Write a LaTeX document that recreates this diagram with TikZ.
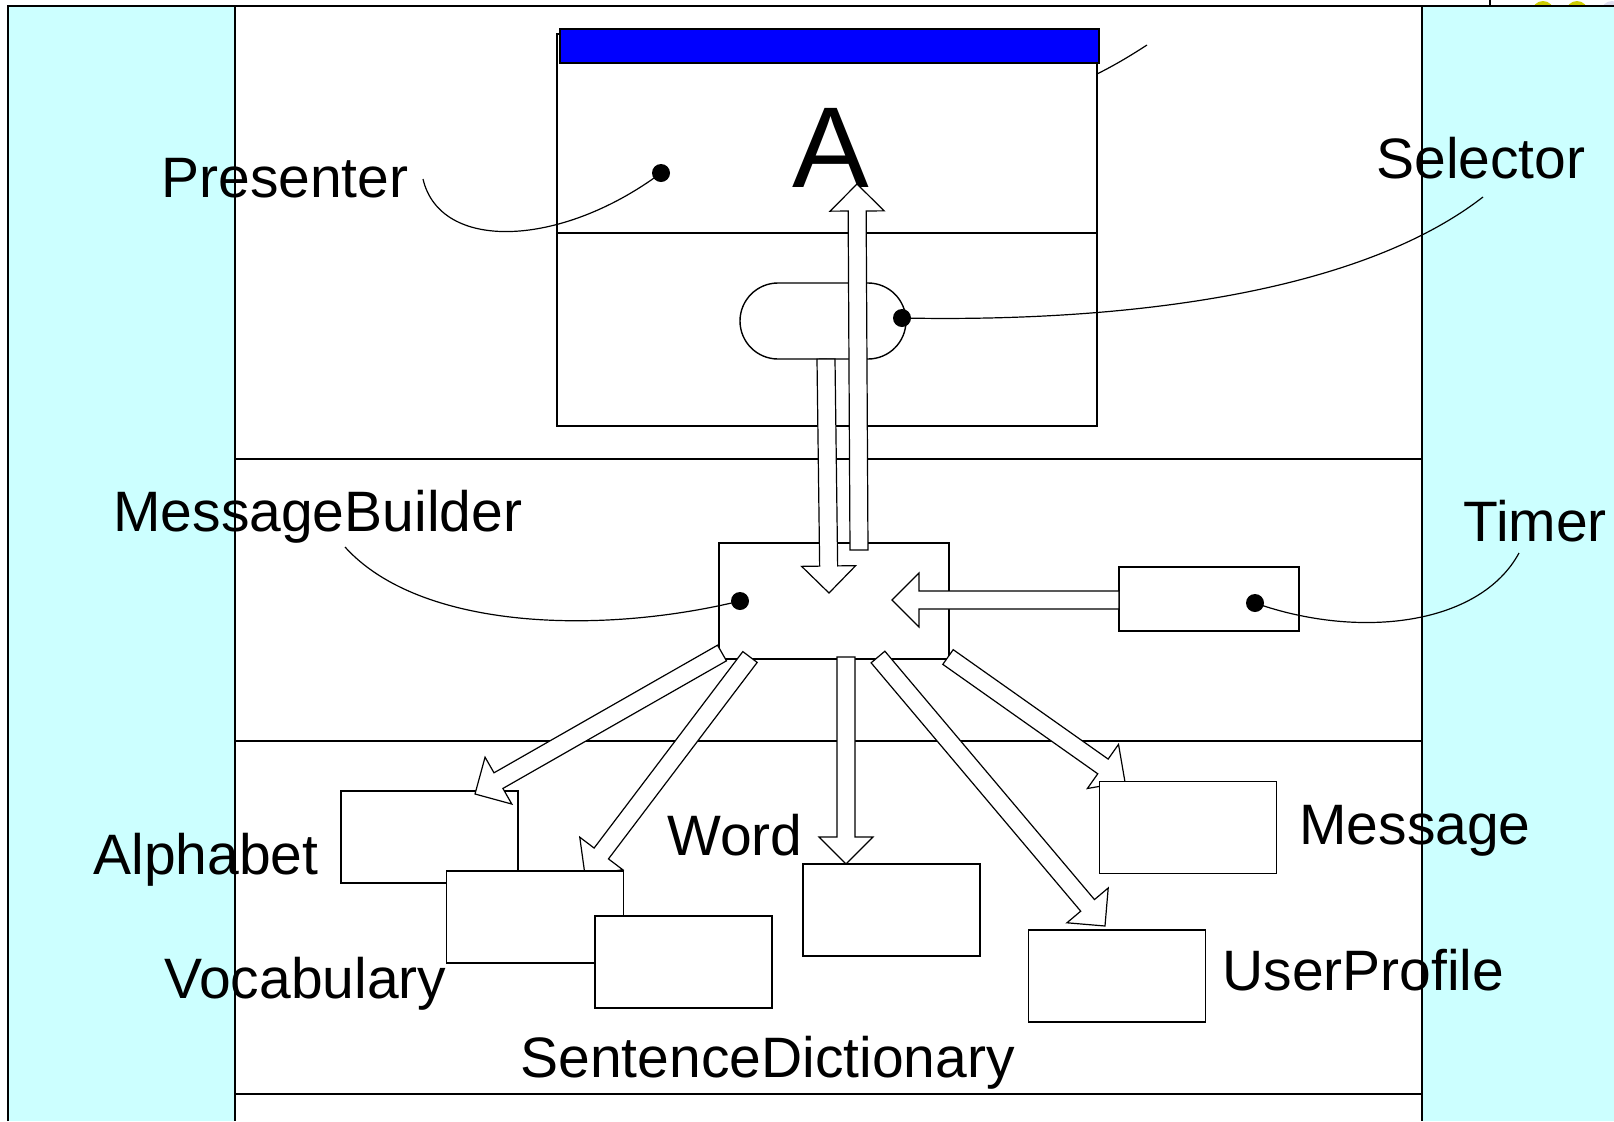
\documentclass[tikz,border=0pt]{standalone}
\usepackage{fontspec}
\setmainfont{Liberation Sans}
\usetikzlibrary{calc}
\definecolor{panelcyan}{RGB}{204,255,255}
\definecolor{barblue}{RGB}{0,0,255}
\definecolor{decoyellow}{RGB}{204,204,0}
\definecolor{decolav}{RGB}{221,221,238}
\newcommand{\blockarr}[2]{%
  \path ($(#2)!13.5pt!(#1)$) coordinate (hbase);
  \draw[arrbody] ($(#1)!4.5pt!90:(#2)$) -- ($(hbase)!4.5pt!90:(#2)$) -- ($(hbase)!13.5pt!90:(#2)$) -- (#2) -- ($(hbase)!13.5pt!-90:(#2)$) -- ($(hbase)!4.5pt!-90:(#2)$) -- ($(#1)!4.5pt!-90:(#2)$) -- cycle;
}
\begin{document}
\begin{tikzpicture}[x=0.5pt,y=-0.5pt,
  framel/.style={line width=0.7pt},
  box/.style={draw, fill=white, line width=0.7pt, inner sep=0pt, minimum width=88.5pt, minimum height=46pt},
  arrbody/.style={draw, fill=white, line width=0.6pt, line join=miter},
  lbl/.style={inner sep=0pt, font=\fontsize{28.5pt}{34pt}\selectfont},
  blackdot/.style={circle, fill=black, inner sep=0pt, minimum size=9pt},
  leader/.style={line width=0.6pt}]
\useasboundingbox (0,0) rectangle (1614,1121);
% panels
\fill[panelcyan] (8,6) rectangle (235,1121);
\fill[panelcyan] (1422,6) rectangle (1614,1121);
\begin{scope}
  \clip (1490,0) rectangle (1614,6);
  \fill[decoyellow] (1543,12) circle (5.5pt);
  \fill[decoyellow] (1577,12) circle (5.5pt);
  \fill[decolav] (1612,12) circle (5.5pt);
\end{scope}
\draw[framel] (1490,0) -- (1490,6);
\draw[framel] (8,1121) -- (8,6) -- (1614,6);
\draw[framel] (235,6) -- (235,1121);
\draw[framel] (1422,6) -- (1422,1121);
\draw[framel] (235,459) -- (1422,459);
\draw[framel] (235,741) -- (1422,741);
\draw[framel] (235,1094) -- (1422,1094);
% presenter window
\node[draw, fill=white, line width=0.7pt, inner sep=0pt, minimum width=270pt, minimum height=196pt] (win) at (827,230) {};
\coordinate (divl) at (557,233);
\coordinate (divr) at (1097,233);
\draw[framel] (divl) -- (divr);
\node[draw, fill=barblue, line width=0.7pt, inner sep=0pt, minimum width=269.5pt, minimum height=17pt] (bar) at (829.5,46) {};
\coordinate (barl1) at (1097,74);
\coordinate (barl2) at (1147,45);
\draw[leader] (barl1) .. controls (1115,65) and (1130,56) .. (barl2);
\node[inner sep=0pt, anchor=base, font=\fontsize{57.5pt}{60pt}\selectfont] (bigA) at (831,187) {A};
% selector capsule
\node[draw, fill=white, line width=0.7pt, rounded corners=19pt, inner sep=0pt, minimum width=83pt, minimum height=38pt] (sel) at (823,321) {};
% middle boxes
\node[box, minimum width=115pt, minimum height=58pt] (mb) at (834,601) {};
\node[box, minimum width=90pt, minimum height=32pt] (timer) at (1209,599) {};
\node[box] (alpha) at (429.5,837) {};
% arrows
\coordinate (a1t) at (826,359); \coordinate (a1h) at (829,593);
\coordinate (a2t) at (859,550); \coordinate (a2h) at (857,184);
\coordinate (a3t) at (1119,600); \coordinate (a3h) at (892,600);
\coordinate (a4t) at (722,653); \coordinate (a4h) at (475,794);
\coordinate (a5t) at (750,657); \coordinate (a5h) at (585,875);
\coordinate (a6t) at (846,657); \coordinate (a6h) at (846,864);
\coordinate (a7t) at (878,657); \coordinate (a7h) at (1105,926);
\coordinate (a8t) at (948,657); \coordinate (a8h) at (1125,782);
\blockarr{a1t}{a1h}
\blockarr{a2t}{a2h}
\blockarr{a3t}{a3h}
\blockarr{a4t}{a4h}
\blockarr{a5t}{a5h}
\blockarr{a6t}{a6h}
\blockarr{a7t}{a7h}
\blockarr{a8t}{a8h}
% lower boxes
\node[box] (vocab) at (535,917) {};
\node[box] (sdict) at (683.5,962) {};
\node[box] (word) at (891.5,910) {};
\node[box] (uprof) at (1117,976) {};
\node[box] (msg) at (1188,827.5) {};
% dots
\node[blackdot] (pdot) at (661,173) {};
\node[blackdot] (sdot) at (902,318) {};
\node[blackdot] (mdot) at (740,601) {};
\node[blackdot] (tdot) at (1255,603) {};
% leaders
\coordinate (pl) at (423,179);
\coordinate (sl) at (1483,197);
\coordinate (ml) at (345,547);
\coordinate (tl) at (1519,553);
\draw[leader] (pl) .. controls (440,252) and (560,248) .. (pdot.center);
\draw[leader] (sdot.center) .. controls (1100,322) and (1350,300) .. (sl);
\draw[leader] (ml) .. controls (420,630) and (600,635) .. (mdot.center);
\draw[leader] (tdot.center) .. controls (1360,640) and (1480,625) .. (tl);
% labels
\node[lbl, anchor=base west] (presenterlbl) at (161,197) {Presenter};
\node[lbl, anchor=base west] (selectorlbl) at (1376,178) {Selector};
\node[lbl, anchor=base west] (mblbl) at (113,531) {MessageBuilder};
\node[lbl, anchor=base west] (timerlbl) at (1463,541) {Timer};
\node[lbl, anchor=base west] (alphalbl) at (93,874) {Alphabet};
\node[lbl, anchor=base west] (vocablbl) at (164,998) {Vocabulary};
\node[lbl, anchor=base west] (wordlbl) at (667,855) {Word};
\node[lbl, anchor=base west] (sdictlbl) at (520,1077) {SentenceDictionary};
\node[lbl, anchor=base west] (msglbl) at (1299,844) {Message};
\node[lbl, anchor=base west] (uproflbl) at (1222,990) {UserProfile};
\end{tikzpicture}
\end{document}
